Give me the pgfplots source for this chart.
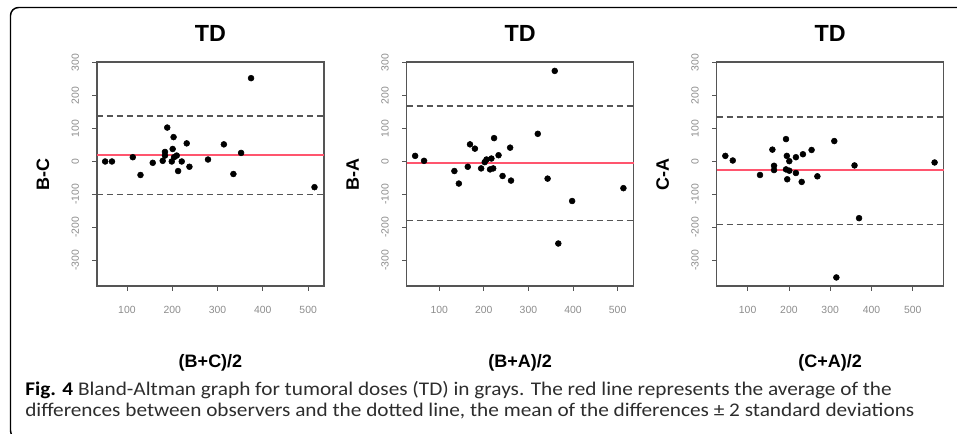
\documentclass[border=0pt]{standalone}
\usepackage{pgfplots}
\usepackage{pgfplotstable}
\usepackage{graphicx}
\usepackage{fontspec}
\setmainfont{Liberation Sans}
\newfontfamily\capfont{Carlito}
\pgfplotsset{compat=1.18}

\definecolor{boxgray}{RGB}{85,85,85}
\definecolor{tickgray}{RGB}{140,140,140}
\definecolor{meanred}{RGB}{255,85,110}
\definecolor{capgray}{RGB}{45,45,45}

% Bland-Altman points: mean of the two observers, difference
\pgfplotstableread{
x y
52 0
67 0
113 13
130 -41
157 -4
179 2
184 29
184 18
189 103
199 0
201 38
203 74
204 13
210 18
213 -29
221 0
232 55
238 -16
279 6
314 52
335 -38
352 26
374 253
514 -78
}\bc
\pgfplotstableread{
x y
46 17
66 2
134 -29
144 -67
164 -16
169 52
180 39
194 -21
202 -2
206 6
214 -24
217 9
221 -21
223 71
233 19
242 -44
259 42
261 -58
321 84
343 -52
359 275
367 -249
398 -120
513 -81
}\ba
\pgfplotstableread{
x y
46 17
64 3
130 -41
160 36
164 -13
164 -26
193 68
195 17
193 -24
196 -54
201 -28
201 1
217 13
217 -35
231 -62
234 22
255 35
269 -45
310 62
315 -352
359 -12
370 -172
553 -3
}\ca

\pgfplotsset{
  ba/.style={
    scale only axis,
    anchor=north west,
    width=170.25pt, height=168pt,
    ymin=-378, ymax=302,
    ytick={-300,-200,...,300},
    xtick={100,200,...,500},
    xtick pos=bottom, ytick pos=left,
    tick align=outside,
    major tick length=3.5pt,
    axis line style={draw=boxgray, line width=0.8pt},
    every tick/.append style={draw=boxgray, line width=0.6pt},
    clip=false,
    /pgf/number format/assume math mode=true,
    ticklabel style={font=\fontsize{7.8}{9}\selectfont, text=tickgray},
    xticklabel style={anchor=center, yshift=-14.5pt},
    yticklabel style={xshift=-12.75pt, rotate=90, anchor=center},
    title style={at={(0.5,1)}, anchor=center, yshift=15.75pt,
      font=\fontsize{17.5}{20}\selectfont\bfseries},
    xlabel style={at={(0.5,0)}, anchor=center, yshift=-57.75pt,
      font=\fontsize{13.5}{16}\selectfont\bfseries},
    ylabel style={at={(0,0.5)}, anchor=center, yshift=40.5pt,
      font=\fontsize{13.5}{16}\selectfont\bfseries},
    title={TD},
  },
  frm/.style={no marks, boxgray, line width=0.8pt, line join=miter},
  tks/.style={no marks, boxgray, line width=0.6pt},
  pts/.style={only marks, mark=*, mark size=2.2pt, black},
  meanl/.style={no marks, meanred, line width=1.5pt},
  sdl/.style={no marks, boxgray, line width=1pt, dash pattern=on 4.5pt off 3pt},
}

\begin{document}
\begin{tikzpicture}
\draw[line width=1.1pt, rounded corners=6pt]
  (718pt,-5.625pt) -- (7.875pt,-5.625pt) -- (7.875pt,-329pt) -- (30pt,-329pt);

\begin{axis}[ba, at={(72.75pt,-46.5pt)}, xmin=34, xmax=535,
  xlabel={(B+C)/2}, ylabel={B-C}]
\addplot[frm] coordinates {(34,-378) (535,-378) (535,302) (34,302) (34,-378) (535,-378)};
\pgfplotsinvokeforeach{100,200,...,500}{\addplot[tks] coordinates {(#1,-378) (#1,-392)};}
\pgfplotsinvokeforeach{-300,-200,...,300}{\addplot[tks] coordinates {(34,#1) (23.7,#1)};}
\addplot[meanl] coordinates {(34,20) (535,20)};
\addplot[sdl] coordinates {(34,138) (535,138)};
\addplot[sdl] coordinates {(34,-101) (535,-101)};
\addplot[pts] table[x=x,y=y] {\bc};
\end{axis}

\begin{axis}[ba, at={(305pt,-46.5pt)}, xmin=27, xmax=536,
  xlabel={(B+A)/2}, ylabel={B-A}]
\addplot[frm] coordinates {(27,-378) (536,-378) (536,302) (27,302) (27,-378) (536,-378)};
\pgfplotsinvokeforeach{100,200,...,500}{\addplot[tks] coordinates {(#1,-378) (#1,-392)};}
\pgfplotsinvokeforeach{-300,-200,...,300}{\addplot[tks] coordinates {(27,#1) (16.6,#1)};}
\addplot[meanl] coordinates {(27,-6) (536,-6)};
\addplot[sdl] coordinates {(27,168) (536,168)};
\addplot[sdl] coordinates {(27,-180) (536,-180)};
\addplot[pts] table[x=x,y=y] {\ba};
\end{axis}

\begin{axis}[ba, at={(537.5pt,-46.5pt)}, xmin=25, xmax=575,
  xlabel={(C+A)/2}, ylabel={C-A}]
\addplot[frm] coordinates {(25,-378) (575,-378) (575,302) (25,302) (25,-378) (575,-378)};
\pgfplotsinvokeforeach{100,200,...,500}{\addplot[tks] coordinates {(#1,-378) (#1,-392)};}
\pgfplotsinvokeforeach{-300,-200,...,300}{\addplot[tks] coordinates {(25,#1) (13.7,#1)};}
\addplot[meanl] coordinates {(25,-26) (575,-26)};
\addplot[sdl] coordinates {(25,135) (575,135)};
\addplot[sdl] coordinates {(25,-192) (575,-192)};
\addplot[pts] table[x=x,y=y] {\ca};
\end{axis}

\node[anchor=base west, inner sep=0pt, font=\capfont\fontsize{14.5}{16}\selectfont, text=capgray]
  at (18.75pt,-296.25pt) {\scalebox{1.1}[1]{{\bfseries\color{black}Fig. 4} Bland-Altman graph for tumoral doses (TD) in grays. The red line represents the average of the}};
\node[anchor=base west, inner sep=0pt, font=\capfont\fontsize{14.5}{16}\selectfont, text=capgray]
  at (18.75pt,-312pt) {\scalebox{1.1}[1]{differences between observers and the dotted line, the mean of the differences ± 2 standard deviations}};

\pgfresetboundingbox
\path[use as bounding box] (0,0) rectangle (717.75pt,-324.75pt);
\end{tikzpicture}
\end{document}
